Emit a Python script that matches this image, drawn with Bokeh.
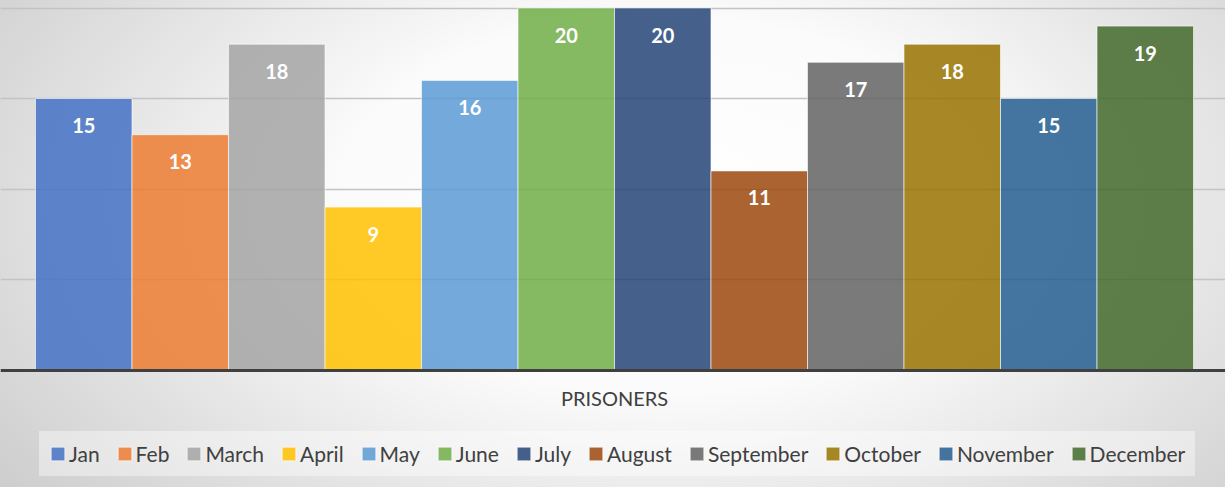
from bokeh.plotting import figure
from bokeh.models import ColumnDataSource, Range1d, LabelSet, Legend, LegendItem, FixedTicker
from bokeh.embed import file_html
from bokeh.resources import INLINE
from bokeh.core.properties import value

months = ["Jan", "Feb", "March", "April", "May", "June", "July", "August",
          "September", "October", "November", "December"]
prisoners = [15, 13, 18, 9, 16, 20, 20, 11, 17, 18, 15, 19]
colors = ["#4472C4", "#ED7D31", "#A5A5A5", "#FFC000", "#5B9BD5", "#70AD47",
          "#264478", "#9E480E", "#636363", "#997300", "#255E91", "#43682B"]
category = ["PRISONERS"]
grid_ticks = [5, 10, 15, 20]

pos = list(range(len(months)))
src = ColumnDataSource(dict(x=pos, month=months, value=prisoners, color=colors,
                            label=[str(v) for v in prisoners]))

FONT = "Lato"

p = figure(frame_width=1225, frame_height=487, output_backend="svg", toolbar_location=None,
           x_range=Range1d(-0.8627, 11.8316), y_range=Range1d(-6.4917, 20.4144),
           min_border_left=0, min_border_right=0, min_border_top=0, min_border_bottom=0)
p.background_fill_color = None
p.border_fill_color = None
p.outline_line_color = None
p.styles = {"background": "radial-gradient(ellipse 75% 110% at 54% 42%, #ffffff 0%, #fbfbfb 35%, #c4c4c4 100%)"}

r = p.vbar(x="x", top="value", bottom=0, width=1.0, source=src,
           fill_color="color", fill_alpha=0.85,
           line_color="white", line_alpha=0.6, line_width=1)

labels = LabelSet(x="x", y="value", text="label", source=src, y_offset=-27,
                  text_align="center", text_baseline="middle", text_color="white",
                  text_font=value(FONT), text_font_style="bold", text_font_size="20px")
p.add_layout(labels)

p.yaxis.visible = False
p.xgrid.visible = False
p.ygrid.ticker = FixedTicker(ticks=grid_ticks)
p.ygrid.grid_line_color = "#c3c3c3"
p.ygrid.grid_line_width = 1.5

center_tick = (len(months) - 1) / 2
xa = p.xaxis[0]
xa.fixed_location = 0
xa.ticker = FixedTicker(ticks=[center_tick])
xa.major_label_overrides = {center_tick: category[0]}
xa.axis_line_color = "#404040"
xa.axis_line_width = 3
xa.major_tick_line_color = None
xa.minor_tick_line_color = None
xa.major_tick_out = 0
xa.major_tick_in = 0
xa.major_label_standoff = 16
xa.major_label_text_font = FONT
xa.major_label_text_font_size = "20px"
xa.major_label_text_color = "#404040"

items = [LegendItem(label=m, renderers=[r], index=i) for i, m in enumerate(months)]
legend = Legend(items=items, orientation="horizontal", location=(39, 11),
                glyph_width=17, glyph_height=17, label_standoff=3, spacing=16,
                padding=10, margin=0, label_height=25,
                label_text_font=FONT, label_text_font_size="21px", label_text_color="#404040",
                background_fill_color="white", background_fill_alpha=0.4,
                border_line_color="white", border_line_alpha=0)
p.add_layout(legend, "center")

open("out.html", "w").write(file_html(p, INLINE))
